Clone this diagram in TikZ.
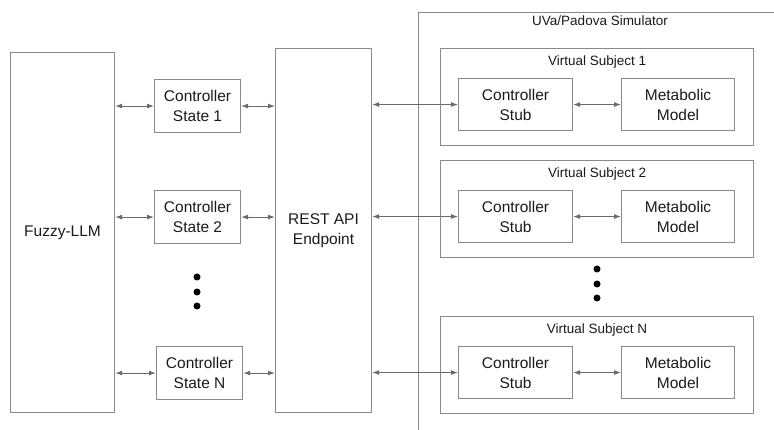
\documentclass[tikz,border=0pt]{standalone}
\usepackage{fontspec}
\setmainfont{Liberation Sans}
\usetikzlibrary{arrows.meta}

\definecolor{boxgray}{HTML}{8A8A8A}
\definecolor{arrowgray}{HTML}{6A6A6A}
\definecolor{textblack}{HTML}{1A1A1A}

\begin{document}
\begin{tikzpicture}
  [
    x = 1pt, y = -1pt,
    box/.style = {draw = boxgray, line width = 1.1pt, text = textblack,
        font = \fontsize{15.5}{20}\selectfont, align = center,
        inner sep = 0pt, anchor = north west},
    group/.style = {draw = boxgray, line width = 1.1pt, inner sep = 0pt,
        anchor = north west},
    title/.style = {text = textblack, font = \fontsize{13.5}{16}\selectfont},
    link/.style = {draw = arrowgray, line width = 1pt,
        {Latex[length=7pt,width=5pt]}-{Latex[length=7pt,width=5pt]}},
    dot/.style = {circle, fill = black, inner sep = 0pt, minimum size = 7pt},
  ]

  \useasboundingbox (0,0) rectangle (774,430);

  % simulator frame
  \draw [draw = boxgray, line width = 1pt] (418,430) -- (418,13) -- (774,13);
  \node [title] (simtitle) at (600,21) {UVa/Padova Simulator};

  % left part
  \node [box, minimum width = 104pt, minimum height = 360pt] (llm) at (10,52) {Fuzzy-LLM};
  \node [box, minimum width = 96pt, minimum height = 364pt] (rest) at (275,48) {REST API\\Endpoint};

  \node [box, minimum width = 86pt, minimum height = 53pt] (state1) at (154,79) {Controller\\State 1};
  \node [box, minimum width = 86pt, minimum height = 53pt] (state2) at (154,190) {Controller\\State 2};
  \node [box, minimum width = 86pt, minimum height = 53pt] (stateN) at (156,346) {Controller\\State N};

  \foreach \y in {277,292,306} {
      \node [dot] at (197,\y) {};
    }

  % virtual subjects
  \foreach \s/\y in {1/48,2/160,N/316} {
      \node [group, minimum width = 313pt, minimum height = 97pt] (subj\s) at (440,\y) {};
      \node [title, anchor = north] (subjtitle\s) at ([yshift=-4pt]subj\s.north) {Virtual Subject \s};
      \node [box, minimum width = 114pt, minimum height = 52pt] (stub\s) at (458,\y+30) {Controller\\Stub};
      \node [box, minimum width = 113pt, minimum height = 52pt] (model\s) at (621,\y+30) {Metabolic\\Model};
      \draw [link] (stub\s) -- (model\s);
    }

  \foreach \y in {269,284,298} {
      \node [dot] at (597,\y) {};
    }

  % connectors
  \foreach \s in {1,2,N} {
      \draw [link] (llm.east |- state\s.west) -- (state\s.west);
      \draw [link] (state\s.east) -- (rest.west |- state\s.east);
      \draw [link] (rest.east |- stub\s.west) -- (stub\s.west);
    }

\end{tikzpicture}
\end{document}
